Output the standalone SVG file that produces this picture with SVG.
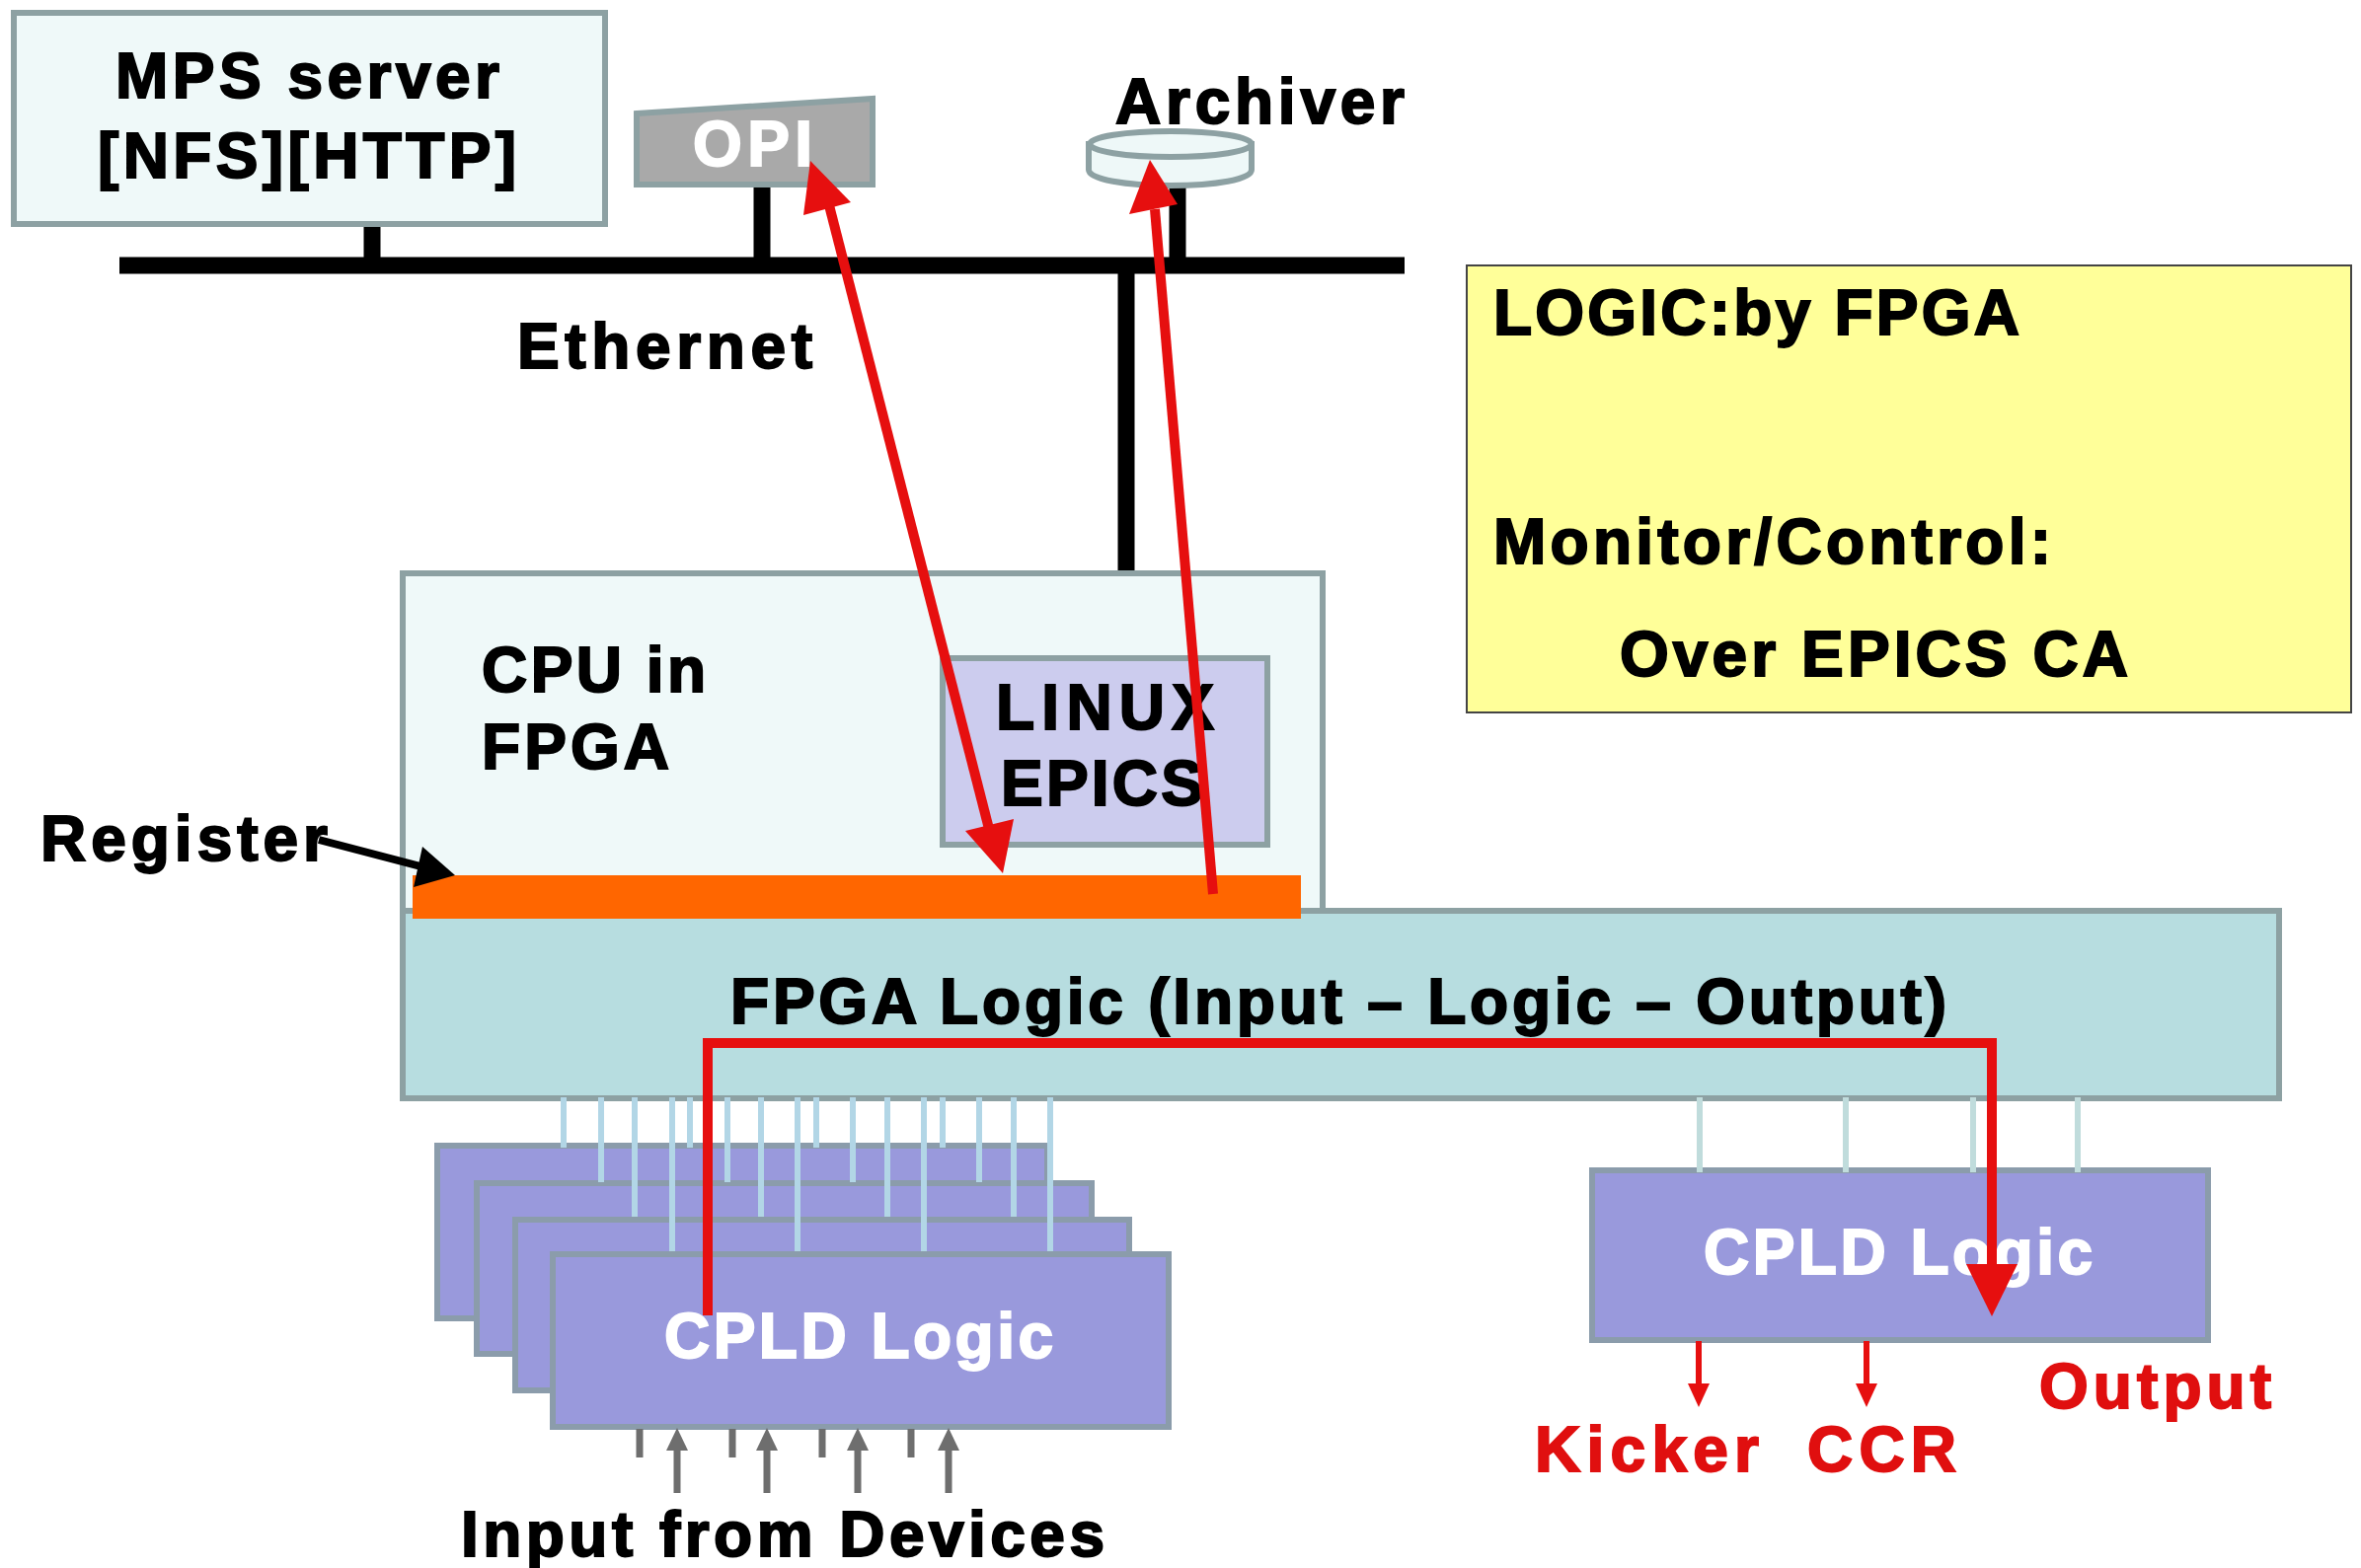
<svg xmlns="http://www.w3.org/2000/svg" width="2392" height="1589" viewBox="0 0 2392 1589">
<style>
text{font-family:"Liberation Sans",Arial,sans-serif;font-weight:700;font-size:64px}
.k{fill:#000;stroke:#000;stroke-width:2}
.w{fill:#fff;stroke:#fff;stroke-width:2}
.r{fill:#e00f0f;stroke:#e00f0f;stroke-width:2}
.box{stroke:#8da1a3;stroke-width:6}
.pale{stroke:#b4dade;stroke-width:6;fill:none}
.cpld{fill:#9999dc;stroke:#8b9cab;stroke-width:6}
.bus{stroke:#000;stroke-width:17;fill:none}
.redl{stroke:#e60f0f;fill:none}
.gray{stroke:#6e6e6e;stroke-width:7;fill:none}
</style>
<rect width="2392" height="1589" fill="#fff"/>
<g id="connectors-back">
<path class="bus" d="M121 269H1423M377 229V269M772 190V269M1193 190V269M1141 269V580"/>
</g>
<g id="mps-server">
<rect class="box" x="14" y="13" width="599" height="214" fill="#eff9f9"/>
<text class="k" x="117" y="99" textLength="389">MPS server</text>
<text class="k" x="99" y="180" textLength="424">[NFS][HTTP]</text>
</g>
<g id="opi">
<polygon points="645,115 884,100 884,187 645,187" fill="#a9a9a9" stroke="#8da1a3" stroke-width="6"/>
<text class="w" x="702" y="168" textLength="121">OPI</text>
</g>
<g id="archiver">
<path d="M1103 146V172C1103 182 1141 188 1186 188S1268 182 1268 172V146Z" fill="#eef8f8" stroke="#8da1a3" stroke-width="6"/>
<ellipse cx="1186" cy="146" rx="82" ry="13" fill="#eef8f8" stroke="#8da1a3" stroke-width="6"/>
<text class="k" x="1130" y="125" textLength="293">Archiver</text>
</g>
<g id="ethernet-label"><text class="k" x="524" y="373" textLength="299">Ethernet</text></g>
<g id="note">
<rect x="1486" y="269" width="896" height="453" fill="#ffff99" stroke="#444" stroke-width="2"/>
<text class="k" x="1513" y="339" textLength="533">LOGIC:by FPGA</text>
<text class="k" x="1513" y="571" textLength="565">Monitor/Control:</text>
<text class="k" x="1641" y="685" textLength="515">Over EPICS CA</text>
</g>
<g id="cpu">
<rect class="box" x="408" y="581" width="932" height="360" fill="#eff9f9"/>
<text class="k" x="488" y="701" textLength="227">CPU in</text>
<text class="k" x="488" y="779" textLength="190">FPGA</text>
</g>
<g id="linux">
<rect class="box" x="955" y="667" width="329" height="189" fill="#ccccee"/>
<text class="k" x="1009" y="739" textLength="221">LINUX</text>
<text class="k" x="1014" y="816" textLength="205">EPICS</text>
</g>
<g id="fpga-logic">
<rect class="box" x="408" y="923" width="1901" height="190" fill="#b7dde0"/>
<text class="k" x="740" y="1037" textLength="1232">FPGA Logic (Input – Logic – Output)</text>
</g>
<g id="register">
<rect x="418" y="887" width="900" height="44" fill="#ff6600"/>
<text class="k" x="41" y="872" textLength="291">Register</text>
</g>
<g id="cpld-stack">
<rect class="cpld" x="443" y="1161" width="618" height="175"/>
<rect class="cpld" x="483" y="1199" width="623" height="173"/>
<rect class="cpld" x="522" y="1236" width="622" height="173"/>
<rect class="cpld" x="560" y="1271" width="624" height="175"/>
<text class="w" x="673" y="1376" textLength="394">CPLD Logic</text>
</g>
<g id="cpld-output">
<rect class="cpld" x="1613" y="1186" width="624" height="172"/>
<text class="w" x="1726" y="1291" textLength="394">CPLD Logic</text>
</g>
<g id="connectors">
<path class="pale" style="stroke:#b2d6e6" d="M571 1112V1163M609 1112V1198M643 1112V1233M681 1112V1268M699 1112V1163M737 1112V1198M771 1112V1233M808 1112V1268M827 1112V1163M864 1112V1198M899 1112V1233M936 1112V1268M955 1112V1163M992 1112V1198M1027 1112V1233M1064 1112V1268"/>
<path class="pale" style="stroke:#c0dcdc" d="M1722 1112V1188M1870 1112V1188M1999 1112V1188M2105 1112V1188"/>
<path class="gray" d="M648 1448V1477M742 1448V1477M833 1448V1477M923 1448V1477M686 1513V1465M777 1513V1465M869 1513V1465M961 1513V1465"/>
<g fill="#6e6e6e"><polygon points="686,1447 675,1470 697,1470"/><polygon points="777,1447 766,1470 788,1470"/><polygon points="869,1447 858,1470 880,1470"/><polygon points="961,1447 950,1470 972,1470"/></g>
<path class="bus" style="stroke-width:8" d="M323 851L430 879"/>
<polygon points="461,887 428,858 419,899" fill="#000"/>
<path class="redl" stroke-width="10" d="M840 208L1002 840"/>
<polygon points="821,163 814,218 862,205" fill="#e60f0f"/>
<polygon points="1016,885 978,842 1027,830" fill="#e60f0f"/>
<path class="redl" stroke-width="10" d="M1229 906L1170 212"/>
<polygon points="1165,162 1144,217 1193,207" fill="#e60f0f"/>
<path class="redl" stroke-width="10" d="M717 1333V1057H2018V1285"/>
<polygon points="2018,1334 1992,1281 2044,1281" fill="#e60f0f"/>
<path class="redl" stroke-width="6" d="M1721 1359V1405M1891 1359V1405"/>
<polygon points="1721,1426 1710,1402 1732,1402" fill="#e60f0f"/>
<polygon points="1891,1426 1880,1402 1902,1402" fill="#e60f0f"/>
</g>
<g id="output-labels">
<text class="r" x="1555" y="1491" textLength="227">Kicker</text>
<text class="r" x="1831" y="1491" textLength="151">CCR</text>
<text class="r" x="2066" y="1427" textLength="235">Output</text>
</g>
<g id="input-label"><text class="k" x="467" y="1577" textLength="652">Input from Devices</text></g>
</svg>
